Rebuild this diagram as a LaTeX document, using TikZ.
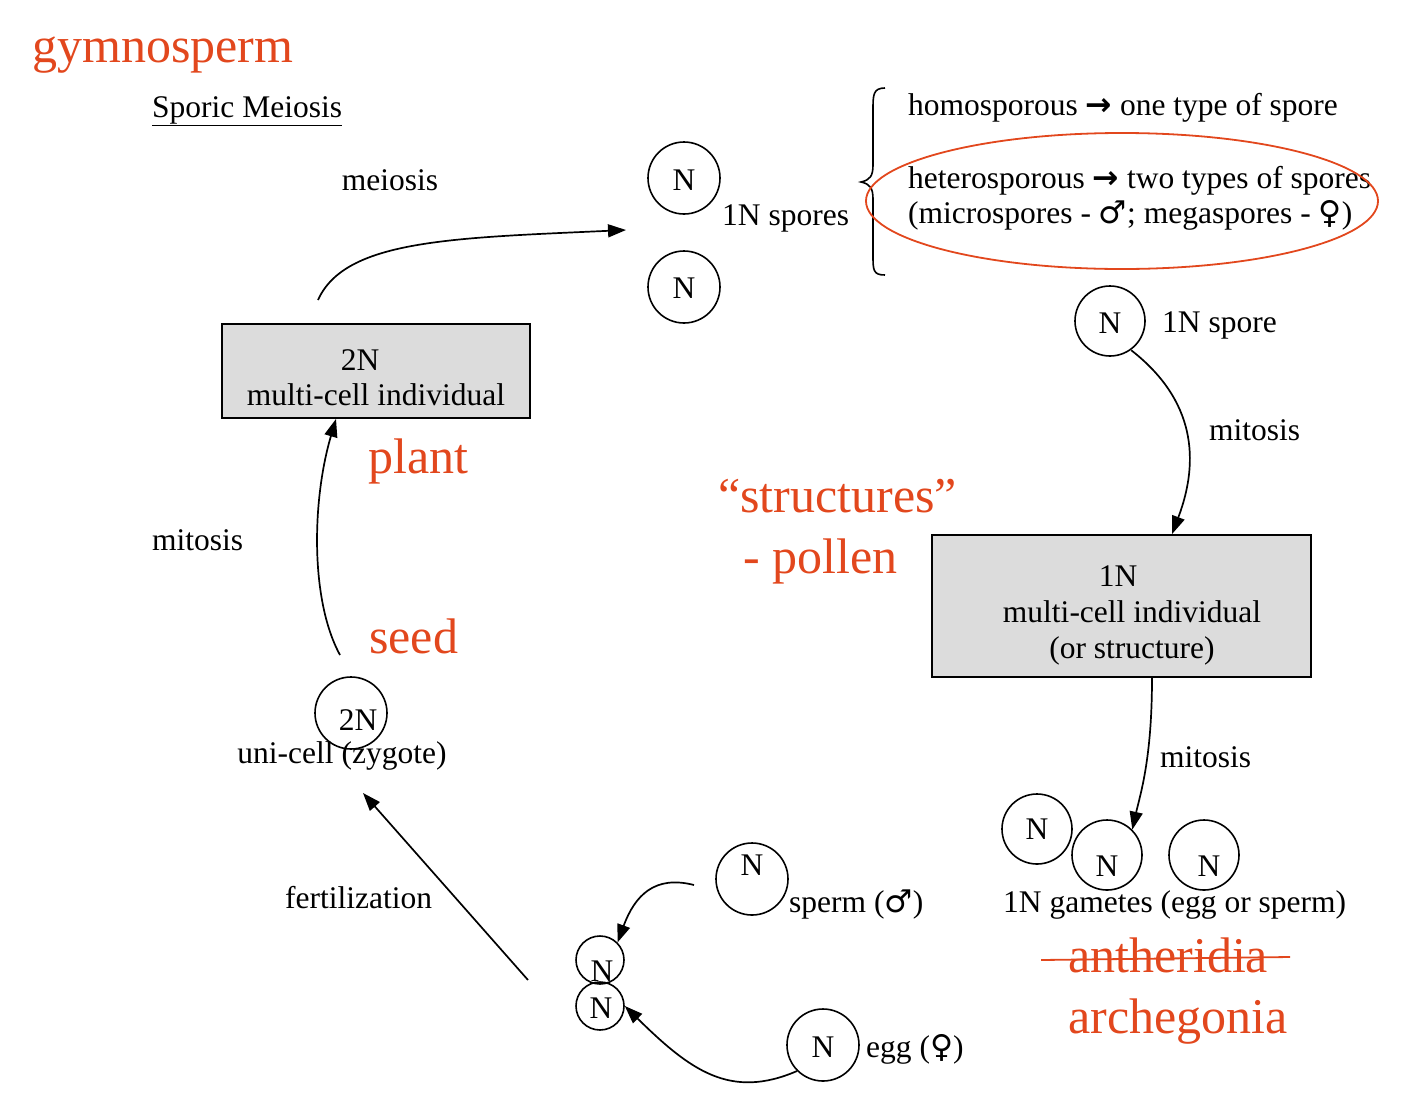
\documentclass[tikz,border=0pt]{standalone}
\usepackage{fontspec}
\setmainfont{Liberation Serif}
\newfontfamily\symf{DejaVu Sans}
\usetikzlibrary{arrows.meta}
\definecolor{redann}{HTML}{E2471D}
\definecolor{boxgray}{HTML}{DCDCDC}
\tikzset{
  txt/.style={inner sep=0pt, anchor=base west, font=\fontsize{31.5}{34}\selectfont},
  ctxt/.style={inner sep=0pt, anchor=base, font=\fontsize{31.5}{34}\selectfont},
  redt/.style={inner sep=0pt, anchor=base west, text=redann, font=\fontsize{50}{54}\selectfont},
  cell/.style={draw, circle, line width=1.6pt, inner sep=0pt, minimum size=#1},
  cell/.default=72pt,
  gbox/.style={draw, line width=1.8pt, fill=boxgray, inner sep=0pt},
  arr/.style={line width=1.7pt, -{Triangle[length=18pt,width=13pt]}},
}
\begin{document}
\begin{tikzpicture}[x=1pt,y=-1pt]
\useasboundingbox (0,0) rectangle (1403,1109);
% titles
\node[redt] (gym) at (32,62) {gymnosperm};
\node[txt] (sporic) at (152,117) {\underline{Sporic Meiosis}};
% 2N box
\node[gbox, minimum width=308pt, minimum height=94pt] (box2) at (376,371) {};
\node[ctxt] (box2a) at (360,370) {2N};
\node[ctxt] (box2b) at (376,405) {multi-cell individual};
\node[redt] (plant) at (368,473) {plant};
% meiosis
\node[ctxt] (meio) at (390,190) {meiosis};
\coordinate (mstart) at (318,300);
\coordinate (mend) at (626,230);
\draw[arr] (mstart) .. controls (345,240) and (450,238) .. (mend);
% spores
\node[cell] (s1) at (684,178) {};
\node[ctxt] (s1t) at (684,190) {N};
\node[cell] (s2) at (684,287) {};
\node[ctxt] (s2t) at (684,298) {N};
\node[txt] (spores) at (722,225) {1N spores};
% brace
\draw[line width=1.6pt] (885,88) .. controls (873,88) and (873,95) .. (873,110)
  -- (873,165) .. controls (873,176) and (870,180) .. (861,182)
  .. controls (870,184) and (873,188) .. (873,199)
  -- (873,255) .. controls (873,270) and (873,275) .. (885,275);
\node[txt] (homo) at (908,115) {homosporous {\symf\bfseries →} one type of spore};
\node[txt] (hetero) at (908,188) {heterosporous {\symf\bfseries →} two types of spores};
\node[txt] (micro) at (908,223) {(microspores - {\symf ♂}; megaspores - {\symf ♀})};
\draw[redann, line width=1.8pt] (1122,201) ellipse [x radius=256, y radius=68];
% 1N spore
\node[cell, minimum size=70pt] (sp) at (1110,321) {};
\node[ctxt] (spt) at (1110,333) {N};
\node[txt] (spl) at (1162,332) {1N spore};
\node[txt] (mit1) at (1209,440) {mitosis};
% 1N box
\node[gbox, minimum width=379pt, minimum height=142pt] (box1) at (1121.5,606) {};
\node[ctxt] (box1a) at (1118,586) {1N};
\node[ctxt] (box1b) at (1132,622) {multi-cell individual};
\node[ctxt] (box1c) at (1132,658) {(or structure)};
\draw[arr] (sp.south east) ++(-4,4) coordinate (spa) .. controls (1195,400) and (1200,460) .. (box1.north west -| 1172,535);
\node[txt] (mit2) at (1160,767) {mitosis};
\node[redt] (struct) at (718,512) {“structures”};
\node[redt] (pollen) at (743,573) {- pollen};
% gametes
\node[cell, minimum size=70pt] (g1) at (1037,829) {};
\node[ctxt] (g1t) at (1037,839) {N};
\node[cell, minimum size=70pt] (g2) at (1107,855) {};
\node[ctxt] (g2t) at (1107,876) {N};
\node[cell, minimum size=70pt] (g3) at (1204,855) {};
\node[ctxt] (g3t) at (1209,876) {N};
\draw[arr] (box1.south -| 1152,677) .. controls (1152,760) and (1140,795) .. (g2.north east);
\node[txt] (gam) at (1003,912) {1N gametes (egg or sperm)};
\node[redt] (anth) at (1068,972) {antheridia};
\draw[redann, line width=1.8pt] (1041,960) -- (1290,957);
\node[redt] (arch) at (1068,1033) {archegonia};
% sperm & egg
\node[cell] (sperm) at (752,879) {};
\node[ctxt] (spermt) at (752,875) {N};
\node[txt] (spermL) at (789,912) {sperm ({\symf ♂})};
\node[cell, minimum size=48pt] (f1) at (600,960) {};
\node[cell, minimum size=48pt] (f2) at (600,1006) {};
\node[ctxt] (f1t) at (602,981) {N};
\node[ctxt] (f2t) at (601,1018) {N};
\node[cell] (egg) at (823,1045) {};
\node[ctxt] (eggt) at (823,1057) {N};
\node[txt] (eggL) at (866,1057) {egg ({\symf ♀})};
\coordinate (sst) at (694,885);
\draw[arr] (sst) .. controls (655,875) and (635,895) .. (f1.north east);
\draw[arr] (egg.south west) .. controls (730,1100) and (690,1070) .. (f2.east);
% zygote
\node[cell] (zyg) at (351,713) {};
\node[ctxt] (zygt) at (358,730) {2N};
\node[ctxt] (uni) at (342,763) {uni-cell (zygote)};
\node[txt] (fert) at (285,908) {fertilization};
\coordinate (fst) at (528,980);
\coordinate (fend) at (363,793);
\draw[arr] (fst) -- (fend);
% mitosis left
\node[txt] (mit3) at (152,550) {mitosis};
\node[redt] (seed) at (369,653) {seed};
\coordinate (zst) at (340,655);
\draw[arr] (zst) .. controls (310,600) and (312,500) .. (box2.south -| 336,443);
\end{tikzpicture}
\end{document}
